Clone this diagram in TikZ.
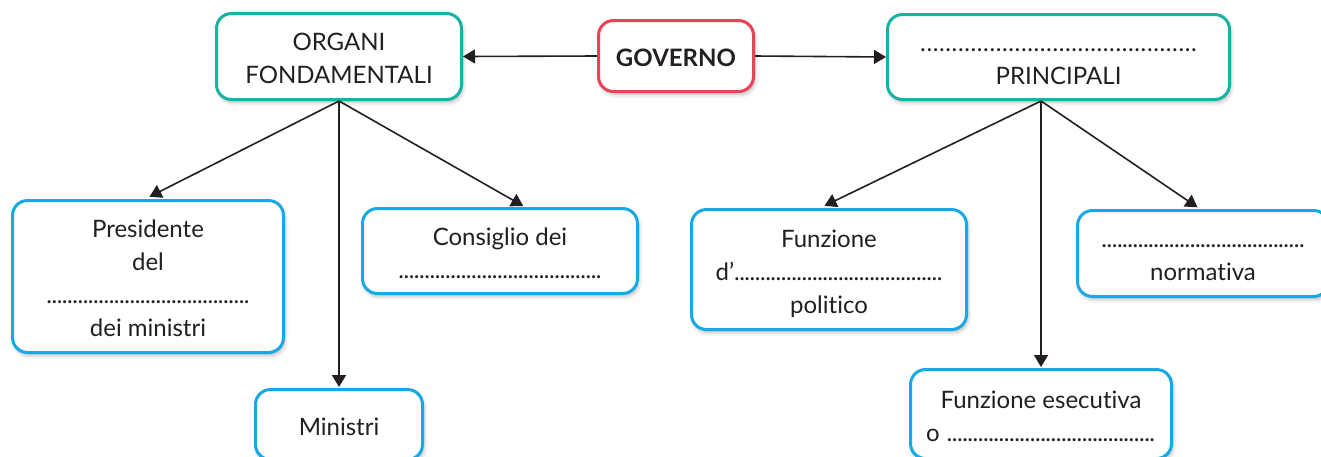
\documentclass[tikz,border=0pt]{standalone}
\usepackage{fontspec}
\setmainfont{Lato}[Ligatures={NoCommon}]
\usetikzlibrary{arrows.meta,shadows.blur}
\definecolor{cTeal}{RGB}{22,178,164}
\definecolor{cBlue}{RGB}{24,168,228}
\definecolor{cRed}{RGB}{232,66,92}
\definecolor{cInk}{RGB}{35,31,32}
\newcommand\ls{\rule[-5pt]{0pt}{31pt}}
\newcommand\dotrow[2]{\hbox to #1{\cleaders\hbox to #2{\hss.\hss}\hfill}}
\tikzset{
  box/.style={rounded corners=15pt, line width=3pt, fill=white, inner sep=0pt,
    align=center, text=cInk, font=\fontsize{24}{33}\selectfont,
    blur shadow={shadow xshift=1.5pt, shadow yshift=-3pt, shadow blur radius=4pt, shadow opacity=28}},
  tealbox/.style={box, draw=cTeal},
  bluebox/.style={box, draw=cBlue},
  redbox/.style={box, draw=cRed},
  conn/.style={draw=cInk, line width=1.6pt, -{Triangle[length=12pt,width=14pt]}}
}
\begin{document}
\begin{tikzpicture}[x=1pt,y=-1pt]
\useasboundingbox (0,0) rectangle (1321,456);
\clip (0,0) rectangle (1321,456);
\node[tealbox, minimum width=245pt, minimum height=86pt] (org) at (339,56.5)
  {\ls ORGANI\\ \ls FONDAMENTALI};
\node[redbox, minimum width=155pt, minimum height=71pt] (gov) at (676,56)
  {\ls\textbf{GOVERNO}};
\node[tealbox, minimum width=342pt, minimum height=85pt] (pri) at (1058.5,57)
  {\ls\dotrow{282pt}{6.3pt}\\ \ls PRINCIPALI};
\node[bluebox, minimum width=271pt, minimum height=152pt] (pres) at (148,276.5)
  {\ls Presidente\\ \ls del\\ \ls\dotrow{206pt}{5.2pt}\\ \ls dei ministri};
\node[bluebox, minimum width=275pt, minimum height=85pt] (cons) at (500,251)
  {\ls Consiglio dei\\ \ls\dotrow{206pt}{5.2pt}};
\node[bluebox, minimum width=167pt, minimum height=70pt] (min) at (339,424.5)
  {\ls Ministri};
\node[bluebox, minimum width=275pt, minimum height=120pt] (fun) at (829,269.5)
  {\ls Funzione\\ \ls d’\dotrow{208pt}{5.2pt}\\ \ls politico};
\node[bluebox, minimum width=251pt, minimum height=86pt] (norm) at (1203,253.5)
  {\ls\dotrow{207pt}{5.2pt}\\ \ls normativa};
\node[bluebox, minimum width=261pt, minimum height=89pt] (ese) at (1041,414)
  {\ls Funzione esecutiva\\ \ls o \dotrow{210pt}{5.2pt}};
\draw[conn] (gov.west) -- (org.east);
\draw[conn] (gov.east) -- (pri.west);
\draw[conn, shorten >=5pt] (org.south) -- ([xshift=-3pt]pres.north);
\draw[conn, shorten >=1pt] (org.south) -- (min.north);
\draw[conn, shorten >=2pt] (org.south) -- ([xshift=25pt]cons.north);
\draw[conn, shorten >=5pt] (pri.south -| ese.north) -- ([xshift=-9pt]fun.north);
\draw[conn, shorten >=1pt] (pri.south -| ese.north) -- (ese.north);
\draw[conn, shorten >=3pt] (pri.south -| ese.north) -- ([xshift=-3pt]norm.north);
\end{tikzpicture}
\end{document}
